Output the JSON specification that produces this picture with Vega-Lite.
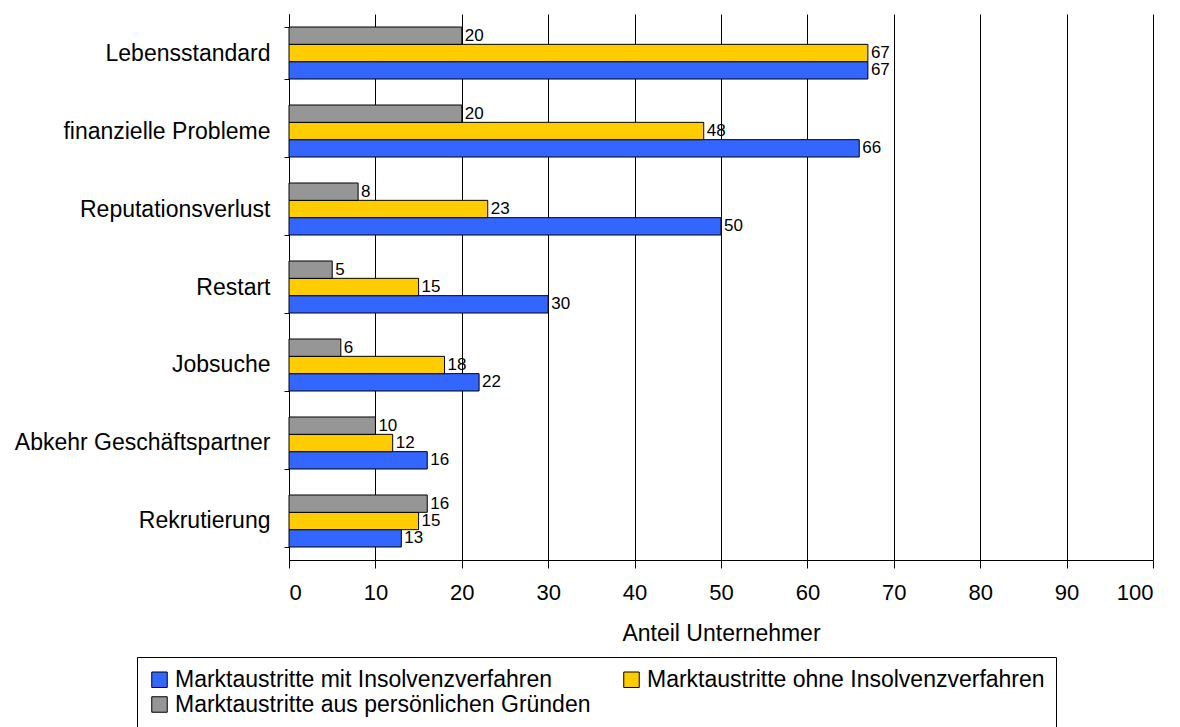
{
  "$schema": "https://vega.github.io/schema/vega-lite/v6.json",
  "width": 864,
  "height": 546,
  "autosize": "none",
  "padding": {"left": 289, "top": 14, "right": 27, "bottom": 167},
  "background": "white",
  "config": {"view": {"stroke": null}, "font": "Liberation Sans"},
  "data": {"values": [
    {"kategorie": "Lebensstandard", "serie": "Marktaustritte mit Insolvenzverfahren", "wert": 67},
    {"kategorie": "Lebensstandard", "serie": "Marktaustritte ohne Insolvenzverfahren", "wert": 67},
    {"kategorie": "Lebensstandard", "serie": "Marktaustritte aus persönlichen Gründen", "wert": 20},
    {"kategorie": "finanzielle Probleme", "serie": "Marktaustritte mit Insolvenzverfahren", "wert": 66},
    {"kategorie": "finanzielle Probleme", "serie": "Marktaustritte ohne Insolvenzverfahren", "wert": 48},
    {"kategorie": "finanzielle Probleme", "serie": "Marktaustritte aus persönlichen Gründen", "wert": 20},
    {"kategorie": "Reputationsverlust", "serie": "Marktaustritte mit Insolvenzverfahren", "wert": 50},
    {"kategorie": "Reputationsverlust", "serie": "Marktaustritte ohne Insolvenzverfahren", "wert": 23},
    {"kategorie": "Reputationsverlust", "serie": "Marktaustritte aus persönlichen Gründen", "wert": 8},
    {"kategorie": "Restart", "serie": "Marktaustritte mit Insolvenzverfahren", "wert": 30},
    {"kategorie": "Restart", "serie": "Marktaustritte ohne Insolvenzverfahren", "wert": 15},
    {"kategorie": "Restart", "serie": "Marktaustritte aus persönlichen Gründen", "wert": 5},
    {"kategorie": "Jobsuche", "serie": "Marktaustritte mit Insolvenzverfahren", "wert": 22},
    {"kategorie": "Jobsuche", "serie": "Marktaustritte ohne Insolvenzverfahren", "wert": 18},
    {"kategorie": "Jobsuche", "serie": "Marktaustritte aus persönlichen Gründen", "wert": 6},
    {"kategorie": "Abkehr Geschäftspartner", "serie": "Marktaustritte mit Insolvenzverfahren", "wert": 16},
    {"kategorie": "Abkehr Geschäftspartner", "serie": "Marktaustritte ohne Insolvenzverfahren", "wert": 12},
    {"kategorie": "Abkehr Geschäftspartner", "serie": "Marktaustritte aus persönlichen Gründen", "wert": 10},
    {"kategorie": "Rekrutierung", "serie": "Marktaustritte mit Insolvenzverfahren", "wert": 13},
    {"kategorie": "Rekrutierung", "serie": "Marktaustritte ohne Insolvenzverfahren", "wert": 15},
    {"kategorie": "Rekrutierung", "serie": "Marktaustritte aus persönlichen Gründen", "wert": 16}
  ]},
  "encoding": {
    "y": {
      "field": "kategorie", "type": "nominal",
      "sort": ["Lebensstandard", "finanzielle Probleme", "Reputationsverlust", "Restart", "Jobsuche", "Abkehr Geschäftspartner", "Rekrutierung"],
      "scale": {"paddingInner": 0.3333, "paddingOuter": 0.1667},
      "axis": {
        "title": null, "tickBand": "extent", "domainColor": "#000", "tickColor": "#000",
        "tickSize": 5, "labelFontSize": 23, "labelColor": "#000", "labelPadding": 14,
        "labelFont": "Liberation Sans", "labelLimit": 400
      }
    },
    "yOffset": {
      "field": "serie", "type": "nominal",
      "sort": ["Marktaustritte aus persönlichen Gründen", "Marktaustritte ohne Insolvenzverfahren", "Marktaustritte mit Insolvenzverfahren"],
      "scale": {"paddingInner": 0, "paddingOuter": 0}
    },
    "x": {
      "field": "wert", "type": "quantitative",
      "scale": {"domain": [0, 100]},
      "axis": {
        "title": "Anteil Unternehmer", "titleFontSize": 23, "titleFontWeight": "normal",
        "titleColor": "#000", "titlePadding": 19, "titleFont": "Liberation Sans",
        "values": [0, 10, 20, 30, 40, 50, 60, 70, 80, 90, 100],
        "grid": true, "gridColor": "#000", "gridWidth": 1,
        "domainColor": "#000", "tickColor": "#000", "tickSize": 8,
        "labelFontSize": 22, "labelColor": "#000", "labelPadding": 14,
        "labelFont": "Liberation Sans"
      }
    }
  },
  "layer": [
    {
      "mark": {"type": "bar", "stroke": "#000", "strokeWidth": 1},
      "encoding": {
        "color": {
          "field": "serie", "type": "nominal",
          "scale": {
            "domain": ["Marktaustritte mit Insolvenzverfahren", "Marktaustritte ohne Insolvenzverfahren", "Marktaustritte aus persönlichen Gründen"],
            "range": ["#3366FF", "#FFCC00", "#969696"]
          },
          "legend": {
            "title": null, "orient": "none", "legendX": -152, "legendY": 643,
            "direction": "horizontal", "columns": 2, "columnPadding": 29, "rowPadding": 1,
            "symbolType": "square", "symbolSize": 240, "symbolStrokeColor": "#000",
            "symbolStrokeWidth": 1, "symbolOpacity": 1,
            "labelFontSize": 23, "labelColor": "#000", "labelFont": "Liberation Sans",
            "labelLimit": 500, "labelOffset": 4,
            "strokeColor": "#000", "padding": 11, "fillColor": "white"
          }
        }
      }
    },
    {
      "mark": {"type": "text", "align": "left", "dx": 3, "fontSize": 17, "color": "#000", "font": "Liberation Sans"},
      "encoding": {"text": {"field": "wert", "type": "quantitative"}}
    }
  ]
}
